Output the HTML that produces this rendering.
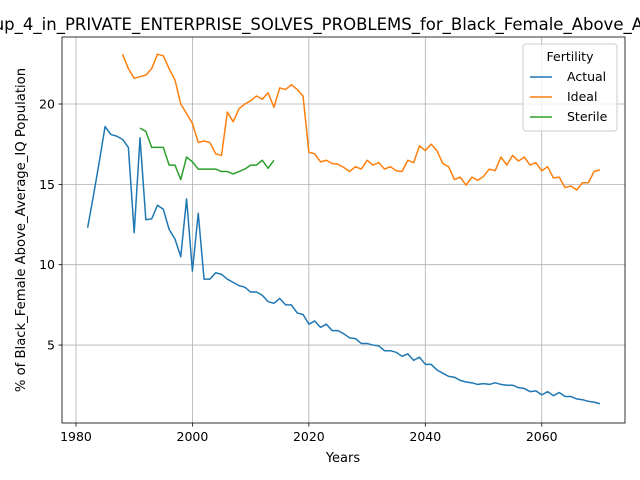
<!DOCTYPE html>
<html><head><meta charset="utf-8"><style>body{margin:0;background:#fff;overflow:hidden}svg{display:block;font-family:"DejaVu Sans","Liberation Sans",sans-serif}</style></head>
<body>
<svg id="chart" width="640" height="480" xmlns="http://www.w3.org/2000/svg">
<text x="305" y="30" font-size="16.5" text-anchor="middle">Share_of_Group_4_in_PRIVATE_ENTERPRISE_SOLVES_PROBLEMS_for_Black_Female_Above_Average_IQ</text>
<g id="grid"></g><g id="series"></g><g id="axes"></g>
<text x="343" y="462" font-size="13" text-anchor="middle">Years</text>
<text transform="translate(25,230) rotate(-90)" font-size="13.2" text-anchor="middle">% of Black_Female Above_Average_IQ Population</text>
<g>
<rect x="523" y="44" width="94" height="87" rx="3" fill="#fff" fill-opacity="0.8" stroke="#ccc"/>
<text x="570" y="61" font-size="12.5" text-anchor="middle">Fertility</text>
<line x1="530" y1="77" x2="552" y2="77" stroke="#1f77b4" stroke-width="1.5"/><text x="567" y="81" font-size="12.5">Actual</text>
<line x1="530" y1="97" x2="552" y2="97" stroke="#ff7f0e" stroke-width="1.5"/><text x="567" y="101" font-size="12.5">Ideal</text>
<line x1="530" y1="117" x2="552" y2="117" stroke="#2ca02c" stroke-width="1.5"/><text x="567" y="121" font-size="12.5">Sterile</text>
</g>
</svg>
<script>
const actualStart = 1982;
const actual = [12.3,14.3,16.4,18.6,18.1,18.0,17.8,17.3,12.0,17.9,12.8,12.85,13.7,13.45,12.2,11.6,10.5,14.1,9.6,13.2,9.1,9.1,9.5,9.4,9.1,8.9,8.7,8.6,8.3,8.3,8.1,7.7,7.6,7.9,7.5,7.5,7.0,6.9,6.3,6.5,6.1,6.3,5.9,5.9,5.7,5.45,5.4,5.1,5.1,5.0,4.95,4.65,4.65,4.55,4.3,4.45,4.05,4.25,3.8,3.8,3.45,3.25,3.05,3.0,2.8,2.7,2.65,2.55,2.6,2.55,2.65,2.55,2.5,2.5,2.35,2.3,2.1,2.15,1.9,2.1,1.85,2.05,1.8,1.8,1.65,1.6,1.5,1.45,1.35];
const idealStart = 1988;
const ideal = [23.1,22.2,21.6,21.7,21.8,22.2,23.1,23.0,22.2,21.5,20.0,19.4,18.8,17.6,17.7,17.6,16.9,16.8,19.5,18.9,19.7,20.0,20.2,20.5,20.3,20.7,19.8,21.0,20.9,21.2,20.9,20.5,17.0,16.9,16.4,16.5,16.3,16.25,16.05,15.8,16.1,15.95,16.5,16.2,16.35,15.95,16.1,15.85,15.8,16.5,16.35,17.4,17.1,17.5,17.1,16.3,16.1,15.3,15.45,14.95,15.45,15.25,15.5,15.95,15.85,16.7,16.2,16.8,16.45,16.7,16.2,16.35,15.85,16.1,15.4,15.45,14.8,14.9,14.65,15.1,15.1,15.8,15.9];
const sterileStart = 1991;
const sterile = [18.5,18.3,17.3,17.3,17.3,16.2,16.2,15.3,16.7,16.4,15.95,15.95,15.95,15.95,15.8,15.8,15.65,15.8,15.95,16.2,16.2,16.5,16.0,16.5];
const xTicks = [1980,2000,2020,2040,2060];
const yTicks = [5,10,15,20];
const L=62,R=625,T=37,B=423;
const x0=1977.6,x1=2074.3,y0=0.15,y1=24.17;
const sx=v=>L+(v-x0)/(x1-x0)*(R-L);
const sy=v=>B-(v-y0)/(y1-y0)*(B-T);
const NS="http://www.w3.org/2000/svg";
function mk(tag,attrs,parent){const e=document.createElementNS(NS,tag);for(const k in attrs)e.setAttribute(k,attrs[k]);parent.appendChild(e);return e;}
const grid=document.getElementById('grid'),axes=document.getElementById('axes'),series=document.getElementById('series');
xTicks.forEach(t=>{const X=sx(t);
 const g=mk('line',{x1:X,x2:X,y1:T,y2:B,stroke:'#b0b0b0','stroke-width':0.8},grid);
 
 
 mk('line',{x1:X,x2:X,y1:B,y2:B+3.5,stroke:'#000','stroke-width':0.8},axes);
 const tx=mk('text',{x:X,y:B+18,'font-size':12.5,'text-anchor':'middle'},axes);tx.textContent=t;
 
 });
yTicks.forEach(t=>{const Y=sy(t);
 const g=mk('line',{x1:L,x2:R,y1:Y,y2:Y,stroke:'#b0b0b0','stroke-width':0.8},grid);
 
 
 mk('line',{x1:L-3.5,x2:L,y1:Y,y2:Y,stroke:'#000','stroke-width':0.8},axes);
 const tx=mk('text',{x:L-7,y:Y+4.5,'font-size':12.5,'text-anchor':'end'},axes);tx.textContent=t;
 
 });
const fr=mk('rect',{x:L,y:T,width:R-L,height:B-T,fill:'none',stroke:'#000','stroke-width':0.8},axes);


function line(arr,start,color,name){const d=arr.map((v,i)=>(i?'L':'M')+sx(start+i).toFixed(2)+','+sy(v).toFixed(2)).join('');
 const p=mk('path',{d:d,fill:'none',stroke:color,'stroke-width':1.5,'stroke-linejoin':'round'},series);
 
 }
line(actual,actualStart,'#1f77b4','actual-line');
line(ideal,idealStart,'#ff7f0e','ideal-line');
line(sterile,sterileStart,'#2ca02c','sterile-line');
</script>
</body></html>
